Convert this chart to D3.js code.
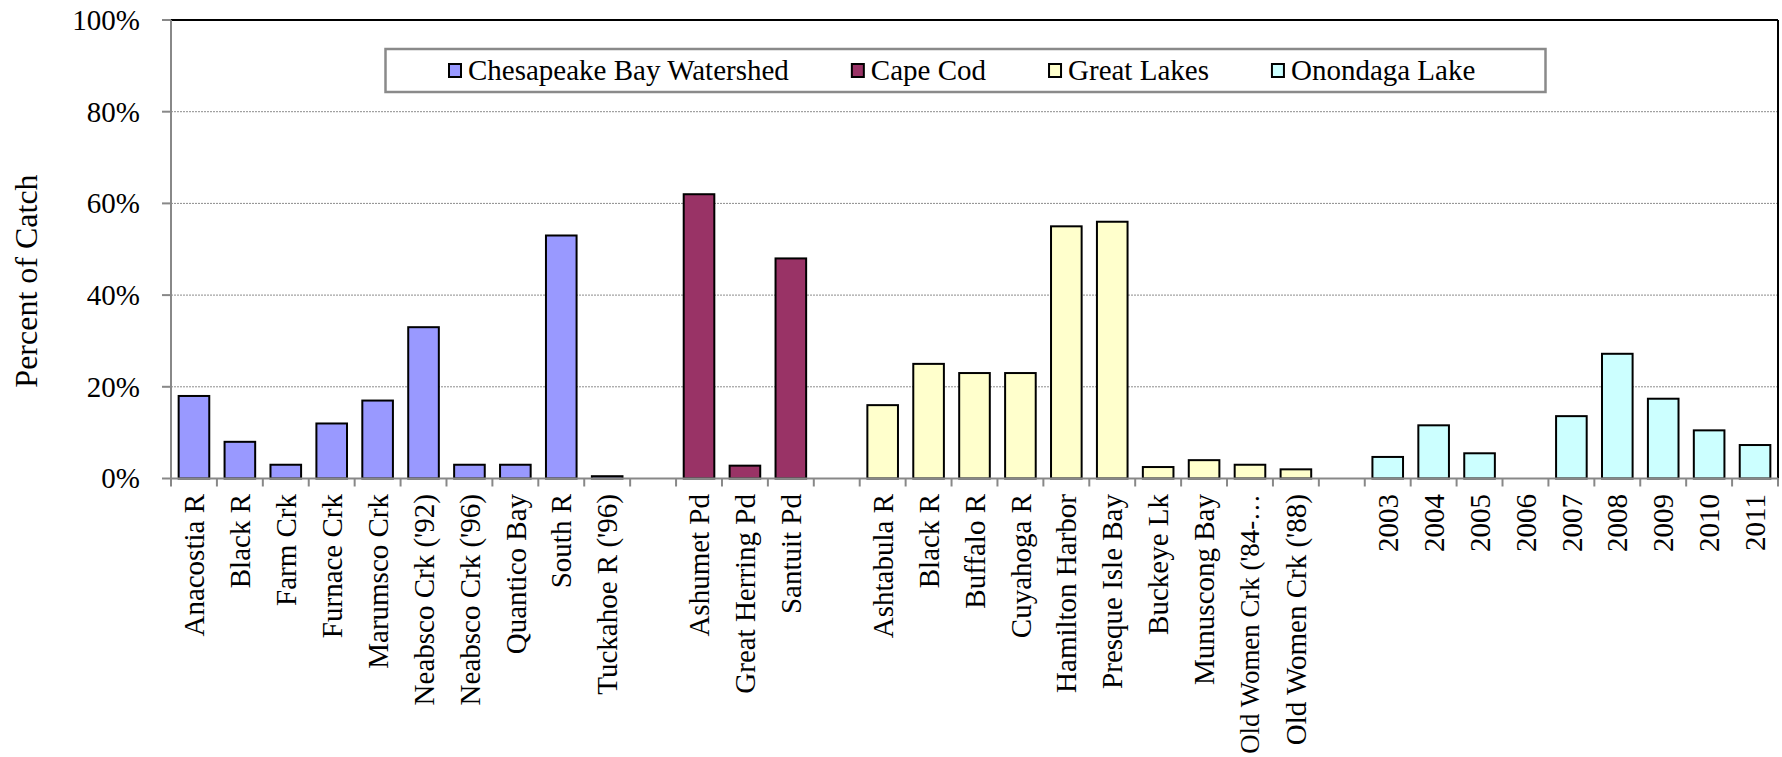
<!DOCTYPE html>
<html>
<head>
<meta charset="utf-8">
<script src="https://cdn.jsdelivr.net/npm/d3@7"></script>
<style>
  html, body { margin: 0; padding: 0; background: #fff; }
  svg { display: block; }
  text { font-family: "Liberation Serif", "Times New Roman", "DejaVu Serif", serif; fill: #000; }
</style>
</head>
<body>
<svg id="chart" width="1782" height="757"></svg>
<script>
// ---------------- data ----------------
const groupNames = ["Chesapeake Bay Watershed", "Cape Cod", "Great Lakes", "Onondaga Lake"];
const groupColors = ["#9999FF", "#993366", "#FFFFCC", "#CCFFFF"];

const chesapeakeSites = ["Anacostia R", "Black R", "Farm Crk", "Furnace Crk", "Marumsco Crk",
  "Neabsco Crk ('92)", "Neabsco Crk ('96)", "Quantico Bay", "South R", "Tuckahoe R ('96)"];
const chesapeakeValues = [18, 8, 3, 12, 17, 33, 3, 3, 53, 0.5];

const capeCodSites = ["Ashumet Pd", "Great Herring Pd", "Santuit Pd"];
const capeCodValues = [62, 2.8, 48];

const greatLakesSites = ["Ashtabula R", "Black R", "Buffalo R", "Cuyahoga R", "Hamilton Harbor",
  "Presque Isle Bay", "Buckeye Lk", "Munuscong Bay", "Old Women Crk ('84-\u2026", "Old Women Crk ('88)"];
const greatLakesValues = [16, 25, 23, 23, 55, 56, 2.5, 4, 3, 2];

const onondagaYears = ["2003", "2004", "2005", "2006", "2007", "2008", "2009", "2010", "2011"];
const onondagaValues = [4.7, 11.6, 5.5, null, 13.6, 27.2, 17.4, 10.5, 7.3];

const yTicks = [0, 20, 40, 60, 80, 100];
const yTitle = "Percent of Catch";

// build the category slots (one empty slot between groups)
const groupSites = [chesapeakeSites, capeCodSites, greatLakesSites, onondagaYears];
const groupValues = [chesapeakeValues, capeCodValues, greatLakesValues, onondagaValues];
const slots = [];
groupSites.forEach((sites, g) => {
  if (g > 0) slots.push({ key: "gap" + g, label: "", value: null, group: -1 });
  sites.forEach((s, i) => slots.push({ key: g + "-" + i, label: s, value: groupValues[g][i], group: g }));
});

// ---------------- layout ----------------
const plot = { left: 171, right: 1778, top: 20, bottom: 478.5 };
const svg = d3.select("#chart");

const x = d3.scaleBand().domain(slots.map(d => d.key)).range([plot.left, plot.right]).padding(0);
const xBar = d3.scaleBand().domain(slots.map(d => d.key)).range([plot.left, plot.right])
  .paddingInner(1 / 3).paddingOuter(1 / 6);
const y = d3.scaleLinear().domain([0, 100]).range([plot.bottom, plot.top]);

// gridlines
svg.append("g").selectAll("line").data(yTicks.filter(t => t > 0 && t < 100)).join("line")
  .attr("x1", plot.left).attr("x2", plot.right)
  .attr("y1", d => y(d)).attr("y2", d => y(d))
  .attr("stroke", "#8c8c8c").attr("stroke-width", 1).attr("stroke-dasharray", "2,1");

// plot-area border (top + right)
svg.append("line").attr("x1", plot.left).attr("x2", plot.right).attr("y1", y(100)).attr("y2", y(100))
  .attr("stroke", "#000").attr("stroke-width", 2);
svg.append("line").attr("x1", plot.right).attr("x2", plot.right).attr("y1", plot.top).attr("y2", plot.bottom)
  .attr("stroke", "#000").attr("stroke-width", 2);

// bars
svg.append("g").selectAll("rect").data(slots.filter(d => d.value != null)).join("rect")
  .attr("x", d => xBar(d.key))
  .attr("width", xBar.bandwidth())
  .attr("y", d => y(d.value))
  .attr("height", d => y(0) - y(d.value))
  .attr("fill", d => groupColors[d.group])
  .attr("stroke", "#000").attr("stroke-width", 2);

// y axis
const yAxis = svg.append("g");
yAxis.append("line").attr("x1", plot.left).attr("x2", plot.left).attr("y1", plot.top).attr("y2", plot.bottom)
  .attr("stroke", "#888").attr("stroke-width", 2);
yAxis.selectAll("line.tick").data(yTicks).join("line").attr("class", "tick")
  .attr("x1", plot.left - 9).attr("x2", plot.left)
  .attr("y1", d => y(d)).attr("y2", d => y(d))
  .attr("stroke", "#888").attr("stroke-width", 2);
yAxis.selectAll("text").data(yTicks).join("text")
  .attr("x", 140).attr("y", d => y(d)).attr("dy", "0.34em")
  .attr("text-anchor", "end").attr("font-size", 29)
  .text(d => d + "%");

svg.append("text")
  .attr("transform", `translate(37, 281) rotate(-90)`)
  .attr("text-anchor", "middle").attr("font-size", 32)
  .text(yTitle);

// x axis
const xAxis = svg.append("g");
xAxis.append("line").attr("x1", plot.left).attr("x2", plot.right).attr("y1", plot.bottom).attr("y2", plot.bottom)
  .attr("stroke", "#888").attr("stroke-width", 2);
const tickPos = slots.map(d => x(d.key)).concat([plot.right]);
xAxis.selectAll("line.tick").data(tickPos).join("line").attr("class", "tick")
  .attr("x1", d => d).attr("x2", d => d)
  .attr("y1", plot.bottom).attr("y2", plot.bottom + 8)
  .attr("stroke", "#888").attr("stroke-width", 2);
const labelTop = 494;
const maxLabelLen = 757 - labelTop - 3;
xAxis.selectAll("text").data(slots.filter(d => d.label)).join("text")
  .attr("transform", d => `translate(${x(d.key) + x.bandwidth() / 2}, ${labelTop}) rotate(-90)`)
  .attr("dy", "0.35em")
  .attr("text-anchor", "end").attr("font-size", 29)
  .text(d => d.label)
  .each(function () {
    const len = this.getComputedTextLength();
    if (len > maxLabelLen) d3.select(this).attr("font-size", 29 * maxLabelLen / len);
  });

// legend
const legend = svg.append("g");
legend.append("rect").attr("x", 385.5).attr("y", 49).attr("width", 1160).attr("height", 43)
  .attr("fill", "#fff").attr("stroke", "#8a8a8a").attr("stroke-width", 2.5);
let lx = 448;
groupNames.forEach((name, i) => {
  const g = legend.append("g");
  g.append("rect").attr("x", lx + 1).attr("y", 64).attr("width", 12).attr("height", 13)
    .attr("fill", groupColors[i]).attr("stroke", "#000").attr("stroke-width", 2);
  const t = g.append("text").attr("x", lx + 20).attr("y", 80).attr("font-size", 29).text(name);
  lx = lx + 20 + t.node().getComputedTextLength() + 62;
});
</script>
</body>
</html>
